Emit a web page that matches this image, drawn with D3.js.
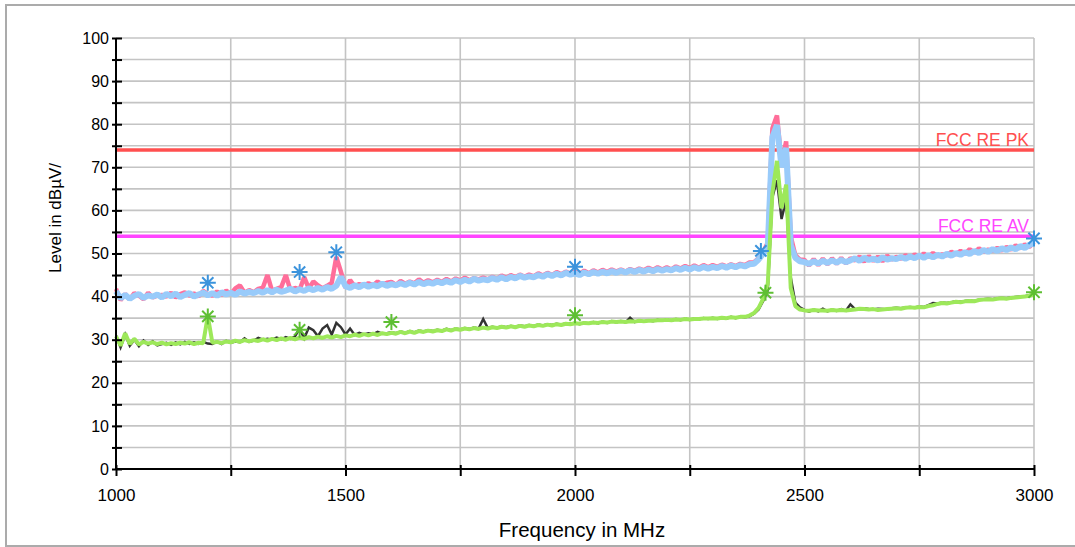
<!DOCTYPE html>
<html>
<head>
<meta charset="utf-8">
<script src="https://cdn.jsdelivr.net/npm/d3@7"></script>
<style>
  body { margin: 0; background: #fff; }
  text { font-family: "Liberation Sans", Arial, sans-serif; }
</style>
</head>
<body>
<div id="chart"></div>
<script>
// Chart dimensions
var w = 1075;
var h = 547;
var plotLeft = 116, plotRight = 1034, plotTop = 38, plotBottom = 469;

// Sweep: one reading every 10 MHz from 1000 to 3000 MHz
var startMHz = 1000;
var stepMHz = 10;

// Peak detector, max hold (pink)
var peakMax = [
  41.8, 39.2, 40.6, 39.3, 40.8, 40.2, 39.4, 40.9, 39.8, 40.2,
  40.4, 40.0, 40.9, 39.8, 40.6, 41.0, 40.2, 40.7, 40.1, 41.3,
  40.6, 40.2, 41.2, 40.4, 41.4, 40.6, 41.9, 42.6, 40.9, 41.5,
  41.0, 41.8, 42.1, 45.0, 41.3, 41.8, 42.2, 45.0, 41.5, 42.0,
  41.6, 44.5, 41.9, 43.5, 42.6, 41.9, 42.5, 43.2, 49.2, 45.8,
  42.0, 43.8, 42.4, 42.9, 42.5, 43.1, 42.6, 43.5, 42.8, 43.2,
  43.4, 42.7, 43.6, 43.0, 43.5, 43.1, 44.0, 43.2, 43.8, 43.3,
  43.9, 43.4, 44.1, 43.5, 44.2, 43.7, 44.4, 43.8, 44.3, 44.0,
  44.4, 44.0, 44.6, 44.1, 44.9, 44.3, 45.0, 44.5, 45.1, 44.6,
  45.1, 44.7, 45.4, 44.9, 45.5, 45.0, 45.7, 45.2, 45.8, 45.3,
  45.8, 45.3, 46.0, 45.4, 46.1, 45.6, 46.2, 45.7, 46.3, 45.8,
  46.3, 45.8, 46.4, 46.0, 46.5, 46.1, 46.7, 46.2, 46.8, 46.3,
  46.8, 46.3, 47.0, 46.5, 47.1, 46.6, 47.2, 46.7, 47.3, 46.8,
  47.3, 46.9, 47.4, 47.0, 47.5, 47.1, 47.6, 47.3, 47.9, 48.0,
  48.9, 50.4, 52.5, 79.0, 82.0, 71.0, 76.0, 54.0, 49.6, 48.6,
  48.5, 47.2, 48.7, 47.3, 48.8, 47.5, 48.9, 47.6, 49.0, 47.7,
  48.9, 48.4, 49.3, 48.1, 49.4, 48.3, 49.3, 48.2, 49.5, 48.6,
  49.2, 48.8, 49.6, 48.9, 49.8, 49.1, 50.0, 49.2, 50.1, 49.4,
  49.8, 49.6, 50.4, 49.8, 50.6, 49.9, 51.0, 50.2, 51.2, 50.4,
  50.9, 50.6, 51.3, 50.7, 51.5, 50.9, 51.9, 51.2, 52.1, 51.5,
  52.6
];

// Peak detector, clear write (light blue)
var peakClr = [
  41.2, 39.6, 40.4, 39.5, 40.2, 40.6, 39.7, 40.3, 40.0, 40.5,
  39.8, 40.6, 40.1, 40.7, 39.9, 40.4, 40.8, 40.0, 40.5, 40.9,
  40.3, 40.8, 40.2, 41.0, 40.5, 40.9, 40.4, 41.2, 40.7, 41.1,
  40.8, 41.3, 40.9, 41.5, 41.0, 41.6, 41.1, 41.4, 41.8, 41.2,
  41.7, 41.3, 41.9, 41.5, 42.0, 41.6, 42.2, 41.8, 42.5, 44.6,
  42.4, 42.0, 42.6, 42.2, 42.8, 42.3, 42.7, 42.4, 43.0, 42.5,
  42.9, 42.6, 43.1, 42.7, 43.2, 42.8, 43.4, 42.9, 43.3, 43.0,
  43.5, 43.1, 43.6, 43.2, 43.8, 43.4, 43.9, 43.5, 44.1, 43.7,
  44.0, 43.8, 44.3, 43.9, 44.5, 44.0, 44.6, 44.2, 44.8, 44.4,
  44.7, 44.5, 45.0, 44.6, 45.2, 44.8, 45.3, 44.9, 45.5, 45.1,
  45.4, 45.0, 45.6, 45.2, 45.7, 45.3, 45.8, 45.4, 45.9, 45.5,
  46.0, 45.6, 46.1, 45.7, 46.2, 45.8, 46.3, 45.9, 46.4, 46.0,
  46.4, 46.1, 46.6, 46.2, 46.7, 46.3, 46.8, 46.4, 46.9, 46.5,
  46.9, 46.6, 47.1, 46.7, 47.2, 46.8, 47.3, 47.0, 47.5, 47.6,
  48.6, 50.0, 51.5, 77.0, 79.8, 70.0, 74.5, 52.0, 49.0, 48.2,
  48.0, 47.6, 48.2, 47.7, 48.3, 47.8, 48.4, 47.9, 48.5, 48.0,
  48.4, 48.9, 48.3, 49.0, 48.5, 48.8, 48.4, 49.1, 48.6, 48.9,
  48.7, 49.2, 48.8, 49.3, 48.9, 49.5, 49.0, 49.6, 49.1, 49.7,
  49.3, 49.9, 49.5, 50.1, 49.7, 50.3, 49.9, 50.6, 50.1, 50.8,
  50.4, 51.0, 50.6, 51.2, 50.8, 51.4, 51.0, 51.7, 51.3, 52.0,
  52.4
];

// Average detector, max hold (dark)
var avgMax = [
  31.0, 28.2, 31.2, 28.6, 30.0, 28.5, 29.8, 28.8, 29.6, 28.7,
  29.0, 29.3, 28.8, 29.4, 28.9, 29.5, 29.0, 29.4, 29.0, 29.5,
  29.1, 29.0, 29.6, 29.0, 29.7, 29.3, 29.6, 29.4, 30.3, 29.5,
  29.8, 30.4, 30.0, 30.2, 30.0, 30.5, 30.1, 30.6, 30.2, 30.8,
  32.6, 30.3, 32.8, 32.2, 30.8, 32.6, 33.4, 31.2, 33.9, 32.9,
  31.2, 32.6, 31.1, 31.6, 31.2, 31.5, 31.3, 31.8, 31.4, 31.5,
  31.7, 31.5, 31.9, 31.6, 32.0, 31.7, 32.1, 31.9, 32.2, 32.0,
  32.3, 32.1, 32.5, 32.2, 32.6, 32.4, 32.7, 32.5, 32.8, 32.6,
  34.8, 32.7, 33.0, 32.8, 33.1, 32.9, 33.2, 33.0, 33.3, 33.1,
  33.4, 33.2, 33.5, 33.3, 33.6, 33.4, 33.7, 33.5, 33.8, 33.7,
  33.9, 33.6, 34.0, 33.7, 34.1, 33.8, 34.2, 33.9, 34.3, 34.0,
  34.3, 34.0, 35.1, 34.1, 34.5, 34.2, 34.5, 34.3, 34.6, 34.4,
  34.7, 34.4, 34.8, 34.5, 34.9, 34.6, 34.9, 34.7, 35.0, 34.8,
  35.1, 34.8, 35.2, 34.9, 35.3, 35.0, 35.4, 35.2, 35.4, 36.0,
  37.0, 39.0, 41.5, 63.0, 67.0, 58.0, 62.5, 44.5, 38.6, 37.5,
  36.9, 36.5, 37.0, 36.6, 37.2, 36.6, 37.0, 36.7, 37.1, 36.7,
  38.2, 37.1, 37.0, 37.3, 37.1, 37.0, 37.2, 37.1, 37.0, 37.3,
  37.4, 37.3, 37.5, 37.6, 37.5, 37.7, 37.6, 38.0, 38.5, 38.4,
  38.6, 38.5, 38.7, 38.9, 38.8, 39.0, 39.1, 39.0, 39.3, 39.4,
  39.5, 39.4, 39.6, 39.7, 39.6, 39.8, 39.9, 40.0, 40.1, 40.3,
  40.6
];

// Average detector, clear write (light green)
var avgClr = [
  30.8, 28.6, 31.5, 29.0, 30.2, 28.9, 29.5, 29.1, 29.4, 29.0,
  29.3, 28.9, 29.2, 29.0, 29.3, 29.1, 29.4, 29.0, 29.3, 29.2,
  35.5, 29.3, 29.5, 29.2, 29.6, 29.4, 29.8, 29.5, 29.9, 29.6,
  29.9, 29.7, 30.1, 29.8, 30.2, 29.9, 30.3, 30.0, 30.4, 30.1,
  30.5, 30.2, 30.6, 30.3, 30.7, 30.4, 30.8, 30.5, 30.9, 30.6,
  31.0, 30.8, 31.2, 30.9, 31.3, 31.0, 31.4, 31.1, 31.5, 31.3,
  31.6, 31.4, 31.8, 31.5, 31.9, 31.6, 32.0, 31.8, 32.1, 31.9,
  32.2, 32.0, 32.4, 32.1, 32.5, 32.3, 32.6, 32.4, 32.7, 32.5,
  32.8, 32.6, 32.9, 32.7, 33.0, 32.8, 33.1, 32.9, 33.2, 33.0,
  33.3, 33.1, 33.4, 33.2, 33.5, 33.3, 33.6, 33.4, 33.7, 33.6,
  33.8, 33.7, 33.9, 33.8, 34.0, 33.9, 34.1, 34.0, 34.2, 34.1,
  34.2, 34.1, 34.3, 34.2, 34.4, 34.3, 34.4, 34.4, 34.5, 34.5,
  34.6, 34.5, 34.7, 34.6, 34.8, 34.7, 34.8, 34.8, 34.9, 34.9,
  35.0, 34.9, 35.1, 35.0, 35.2, 35.1, 35.3, 35.3, 35.6, 36.2,
  37.4, 39.5, 43.0, 64.0, 71.5, 60.5, 66.0, 42.0, 37.8, 37.0,
  36.8, 36.7, 36.9, 36.8, 36.8, 36.7, 36.9, 36.8, 36.9, 36.8,
  36.9, 37.0, 37.2, 37.1, 37.0, 37.1, 36.9, 37.0, 37.1, 37.2,
  37.3, 37.2, 37.4, 37.5, 37.4, 37.6, 37.5, 37.8, 38.0, 38.3,
  38.5, 38.4, 38.6, 38.8, 38.7, 38.9, 39.0, 38.9, 39.2, 39.3,
  39.4, 39.3, 39.5, 39.6, 39.5, 39.7, 39.8, 39.9, 40.0, 40.2,
  40.5
];

// Final measurement markers
var pkMarkFreq = [1200, 1400, 1480, 2000, 2405, 3000];
var pkMarkLevel = [43.2, 45.7, 50.3, 46.9, 50.6, 53.5];
var avMarkFreq = [1200, 1400, 1600, 2000, 2415, 3000];
var avMarkLevel = [35.4, 32.3, 34.1, 35.7, 40.9, 41.0];

// Limit lines
var limitNames = ["FCC RE PK", "FCC RE AV"];
var limitLevels = [74, 54];
var limitColors = ["#ff4f4f", "#ff45ff"];

var xTicks = [1000, 1250, 1500, 1750, 2000, 2250, 2500, 2750, 3000];
var xLabels = [1000, 1500, 2000, 2500, 3000];
var yTicks = [0, 5, 10, 15, 20, 25, 30, 35, 40, 45, 50, 55, 60, 65, 70, 75, 80, 85, 90, 95, 100];

function toPoints(values) {
  return values.map((v, i) => ({ f: startMHz + i * stepMHz, v: v }));
}

function createLine(svg, values, xScale, yScale, color, width, join) {
  const line = d3.line()
    .x(d => xScale(d.f))
    .y(d => yScale(d.v));

  svg.append("path")
    .datum(toPoints(values))
    .attr("fill", "none")
    .attr("stroke", color)
    .attr("stroke-width", width)
    .attr("stroke-linejoin", join)
    .attr("d", line);
}

function createMarkers(svg, freqs, levels, xScale, yScale, color) {
  const r = 8;
  const star = "M0," + (-r) + "V" + r +
    "M" + (-r) + ",0H" + r +
    "M" + (-r * 0.7) + "," + (-r * 0.7) + "L" + (r * 0.7) + "," + (r * 0.7) +
    "M" + (-r * 0.7) + "," + (r * 0.7) + "L" + (r * 0.7) + "," + (-r * 0.7);

  svg.selectAll()
    .data(freqs)
    .enter()
    .append("path")
    .attr("d", star)
    .attr("transform", (d, i) => "translate(" + xScale(d) + "," + yScale(levels[i]) + ")")
    .attr("stroke", color)
    .attr("stroke-width", 2)
    .attr("fill", "none");
}

function main() {
  const xScale = d3.scaleLinear().domain([1000, 3000]).range([plotLeft, plotRight]);
  const yScale = d3.scaleLinear().domain([0, 100]).range([plotBottom, plotTop]);

  const svg = d3.select("#chart")
    .append("svg")
    .attr("width", w)
    .attr("height", h);

  svg.append("rect")
    .attr("width", w).attr("height", h).attr("fill", "#fff");

  // outer frame (right side runs off the picture)
  svg.append("rect")
    .attr("x", 6).attr("y", 5)
    .attr("width", 1090).attr("height", 541)
    .attr("fill", "none")
    .attr("stroke", "#ababab")
    .attr("stroke-width", 2);

  // grid
  svg.append("g")
    .selectAll("line")
    .data(yTicks.filter(d => d > 0))
    .enter()
    .append("line")
    .attr("x1", plotLeft).attr("x2", plotRight)
    .attr("y1", d => yScale(d)).attr("y2", d => yScale(d))
    .attr("stroke", "#c4c4c4")
    .attr("stroke-width", 1.6);

  svg.append("g")
    .selectAll("line")
    .data(xTicks.filter(d => d > 1000))
    .enter()
    .append("line")
    .attr("x1", d => xScale(d)).attr("x2", d => xScale(d))
    .attr("y1", plotTop).attr("y2", plotBottom)
    .attr("stroke", "#c4c4c4")
    .attr("stroke-width", 1.6);

  // limit lines
  limitLevels.forEach((lv, i) => {
    svg.append("line")
      .attr("x1", plotLeft).attr("x2", plotRight)
      .attr("y1", yScale(lv)).attr("y2", yScale(lv))
      .attr("stroke", limitColors[i])
      .attr("stroke-width", 3.5);
  });

  // traces
  createLine(svg, peakMax, xScale, yScale, "#ff6e9a", 4.5, "bevel");
  createLine(svg, peakClr, xScale, yScale, "#99cbfa", 6, "bevel");
  createLine(svg, avgMax, xScale, yScale, "#333333", 2.5, "miter");
  createLine(svg, avgClr, xScale, yScale, "#9de85a", 4, "bevel");

  createMarkers(svg, pkMarkFreq, pkMarkLevel, xScale, yScale, "#3b93dc");
  createMarkers(svg, avMarkFreq, avMarkLevel, xScale, yScale, "#5ebf33");

  // limit labels
  limitLevels.forEach((lv, i) => {
    svg.append("text")
      .attr("x", plotRight - 5)
      .attr("y", yScale(lv) - 4)
      .attr("text-anchor", "end")
      .attr("font-size", "17.5px")
      .attr("fill", limitColors[i])
      .text(limitNames[i]);
  });

  // axes
  const yAxis = d3.axisLeft(yScale)
    .tickValues(yTicks)
    .tickSize(4)
    .tickPadding(3)
    .tickFormat(d => d % 10 === 0 ? d : "");

  const gy = svg.append("g")
    .attr("transform", "translate(" + plotLeft + ",0)")
    .call(yAxis);
  gy.select(".domain").remove();
  gy.selectAll(".tick line").attr("x1", 6).attr("stroke-width", 2);
  gy.selectAll("text").style("font-size", "16px").attr("fill", "#000");

  const xAxis = d3.axisBottom(xScale)
    .tickValues(xTicks)
    .tickSize(7)
    .tickPadding(13)
    .tickFormat(d => xLabels.includes(d) ? d : "");

  const gx = svg.append("g")
    .attr("transform", "translate(0," + plotBottom + ")")
    .call(xAxis);
  gx.select(".domain").remove();
  gx.selectAll(".tick line").attr("y1", -4).attr("stroke-width", 2);
  gx.selectAll("text").style("font-size", "17px").attr("fill", "#000");

  svg.append("line")
    .attr("x1", plotLeft).attr("x2", plotLeft)
    .attr("y1", plotTop).attr("y2", plotBottom + 1)
    .attr("stroke", "#000").attr("stroke-width", 2);
  svg.append("line")
    .attr("x1", plotLeft - 1).attr("x2", plotRight)
    .attr("y1", plotBottom).attr("y2", plotBottom)
    .attr("stroke", "#000").attr("stroke-width", 2);

  // axis titles
  svg.append("text")
    .attr("transform", "translate(61,218) rotate(-90)")
    .attr("text-anchor", "middle")
    .attr("font-size", "17px")
    .text("Level in dBµV/");

  svg.append("text")
    .attr("x", 582)
    .attr("y", 537)
    .attr("text-anchor", "middle")
    .attr("font-size", "20.5px")
    .text("Frequency in MHz");
}

window.onload = function() {
  main();
};
</script>
</body>
</html>
